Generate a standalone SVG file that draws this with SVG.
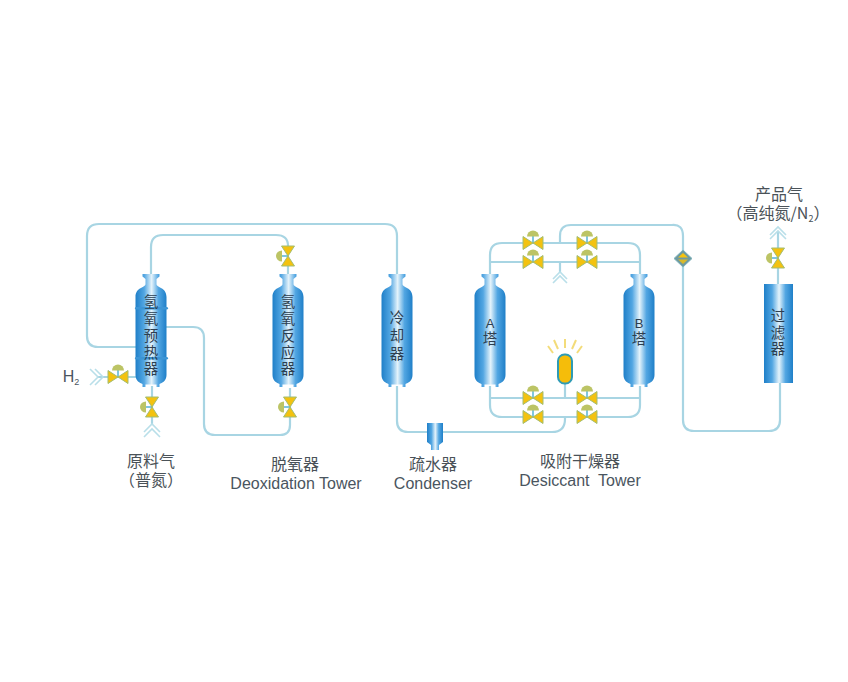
<svg xmlns="http://www.w3.org/2000/svg" width="848" height="682" viewBox="0 0 848 682">
<style>
.p{fill:none;stroke:#a8d5e3;stroke-width:2.2}
.c{fill:none;stroke:#b9dfe9;stroke-width:1.6}
.t{font-family:"Noto Sans CJK SC","Liberation Sans",sans-serif;font-size:16px;fill:#4a5258;text-anchor:middle}
.e{font-family:"Liberation Sans","Noto Sans CJK SC",sans-serif;font-size:16px;fill:#4a5560;text-anchor:middle}
.v{font-family:"Noto Sans CJK SC","Liberation Sans",sans-serif;font-size:14.5px;fill:#2c3e50;text-anchor:middle}
.w{writing-mode:vertical-rl}
.a{font-family:"Liberation Sans",sans-serif;font-size:13px}
.y{fill:#f3c210;stroke:#a3bd72;stroke-width:1}
.d{fill:#bcc465}
.s{stroke:#5fb8d8;stroke-width:1.6;fill:none}
.r{stroke:#f3dc7a;stroke-width:2;fill:none}
</style>
<defs>
<linearGradient id="g"><stop offset="0" stop-color="#1f7fc8"/><stop offset=".28" stop-color="#52a6e2"/><stop offset=".52" stop-color="#e4f3fb"/><stop offset=".74" stop-color="#52a6e2"/><stop offset="1" stop-color="#1f7fc8"/></linearGradient>
<path id="tower" fill="url(#g)" d="M-8.500 0H8.500V2.500L5.500 5V10C5.500 14 15.500 13 15.500 23V101C15.500 107 11 109 8.500 110V113H5.500V110.500H-5.500V113H-8.500V110C-11 109 -15.500 107 -15.500 101V23C-15.500 13 -5.500 14 -5.500 10V5L-8.500 2.500Z"/>
<g id="vv"><path class="s" d="M0 0H-7"/><path class="y" d="M-6.500 -10H6.500L0 0Z"/><path class="y" d="M-6.500 10H6.500L0 0Z"/><path class="d" d="M-6 -5.500A6 5.500 0 0 0 -6 5.500Z"/></g>
<g id="hv"><path class="s" d="M0 0V-7"/><path class="y" d="M-10 -6.500V6.500L0 0Z"/><path class="y" d="M10 -6.500V6.500L0 0Z"/><path class="d" d="M-6 -6.500A6 6 0 0 1 6 -6.500Z"/></g>
</defs>
<rect width="848" height="682" fill="#fff"/>
<g id="connectors">
<path class="p" d="M136 347H98Q87 347 87 336V236Q87 224 99 224H385Q397 224 397 236V276"/>
<path class="p" d="M151 276V247Q151 235 163 235H276Q288 235 288 246V276"/>
<path class="p" d="M166 327H193Q204 327 204 338V424Q204 435 215 435H280Q290 435 290 425V388"/>
<path class="p" d="M152 386V424"/>
<path class="p" d="M98 377H137"/>
<path class="p" d="M397 386V421Q397 432 408 432H552Q565 432 565 419V417"/>
<path class="p" d="M565 384V398"/>
<path class="p" d="M490 276V255Q490 243 502 243H628Q640 243 640 255V276"/>
<path class="p" d="M490 262H640"/>
<path class="p" d="M490 386V405Q490 417 502 417H628Q640 417 640 405V386"/>
<path class="p" d="M490 398H640"/>
<path class="p" d="M560 243V236Q560 225 571 225H672Q683 224 683 236V420Q683 431 694 431H769Q780 431 780 420V382"/>
<path class="p" d="M560 262V272"/>
<path class="p" d="M778 285V231"/>
</g>
<g id="preheater"><use href="#tower" x="151" y="274"/><rect x="135" y="307" width="33" height="2.500" rx="1.200" fill="#3c95d5"/><rect x="135" y="357" width="33" height="2.500" rx="1.200" fill="#3c95d5"/>
<text class="v w" x="151" y="336.500" letter-spacing="2.250">氢氧预热器</text></g>
<g id="reactor"><use href="#tower" x="288" y="274"/>
<text class="v w" x="288" y="336.500" letter-spacing="2.250">氢氧反应器</text></g>
<g id="cooler"><use href="#tower" x="397" y="274"/>
<text class="v w" x="397" y="337" letter-spacing="3.500">冷却器</text></g>
<g id="towerA"><use href="#tower" x="490" y="274"/>
<text class="v" x="490" y="328"><tspan class="a" x="490">A</tspan><tspan x="490" dy="16">塔</tspan></text></g>
<g id="towerB"><use href="#tower" x="639" y="274"/>
<text class="v" x="639" y="328"><tspan class="a" x="639">B</tspan><tspan x="639" dy="16">塔</tspan></text></g>
<g id="filter"><rect x="764" y="284" width="29" height="99" fill="url(#g)"/>
<text class="v w" x="778" y="333" letter-spacing="2">过滤器</text></g>
<g id="condenser"><path fill="url(#g)" d="M427 423H443V442L439 445V450H431V445L427 442Z"/></g>
<g id="lamp"><rect x="558" y="354.500" width="14" height="29" rx="6.500" fill="#f5bd0a" stroke="#2f9bb5" stroke-width="2"/>
<path class="r" d="M565 348V339M558 349L554 340M572 349L576 340M553 353L548 346M577 353L582 346"/></g>
<g id="valves">
<use href="#vv" x="288" y="256"/><use href="#vv" x="290" y="407"/><use href="#vv" x="152" y="407"/><use href="#vv" x="778" y="258"/>
<use href="#hv" x="118" y="377"/>
<use href="#hv" x="533" y="243"/><use href="#hv" x="587" y="243"/><use href="#hv" x="533" y="262"/><use href="#hv" x="587" y="262"/>
<use href="#hv" x="533" y="398"/><use href="#hv" x="587" y="398"/><use href="#hv" x="533" y="417"/><use href="#hv" x="587" y="417"/>
</g>
<g id="inlets">
<path class="c" d="M90 369L98 377L90 385M95 369L103 377L95 385"/>
<path class="c" d="M144 432L152 424L160 432M144 437L152 429L160 437"/>
<path class="c" d="M553 279L560 272L567 279M553 283L560 276L567 283"/>
<path class="c" d="M770 235L778 227L786 235M770 239L778 231L786 239"/>
</g>
<g id="trap"><path d="M683 250L692 258.500L683 267L674 258.500Z" fill="#6f9aa0" stroke="#7fb3bd"/><path d="M678 257.500H688L683 253Z" fill="#f5c20f"/><path d="M678 259.500H688L683 264Z" fill="#d8b92a"/></g>
<g id="labels">
<text x="71" y="382" class="e">H<tspan font-size="9" dy="3">2</tspan></text>
<text x="151" y="467" class="t">原料气<tspan x="151" dy="19">（普氮）</tspan></text>
<text x="295" y="470" class="t">脱氧器</text><text x="296" y="489" class="e">Deoxidation Tower</text>
<text x="433" y="470" class="t">疏水器</text><text x="433" y="489" class="e">Condenser</text>
<text x="580" y="467" class="t">吸附干燥器</text><text x="580" y="486" class="e" xml:space="preserve">Desiccant  Tower</text>
<text x="779" y="200" class="t">产品气<tspan x="778" dy="19">（高纯氮/N</tspan><tspan font-size="9" dy="3">2</tspan><tspan dy="-3">）</tspan></text>
</g>
</svg>
